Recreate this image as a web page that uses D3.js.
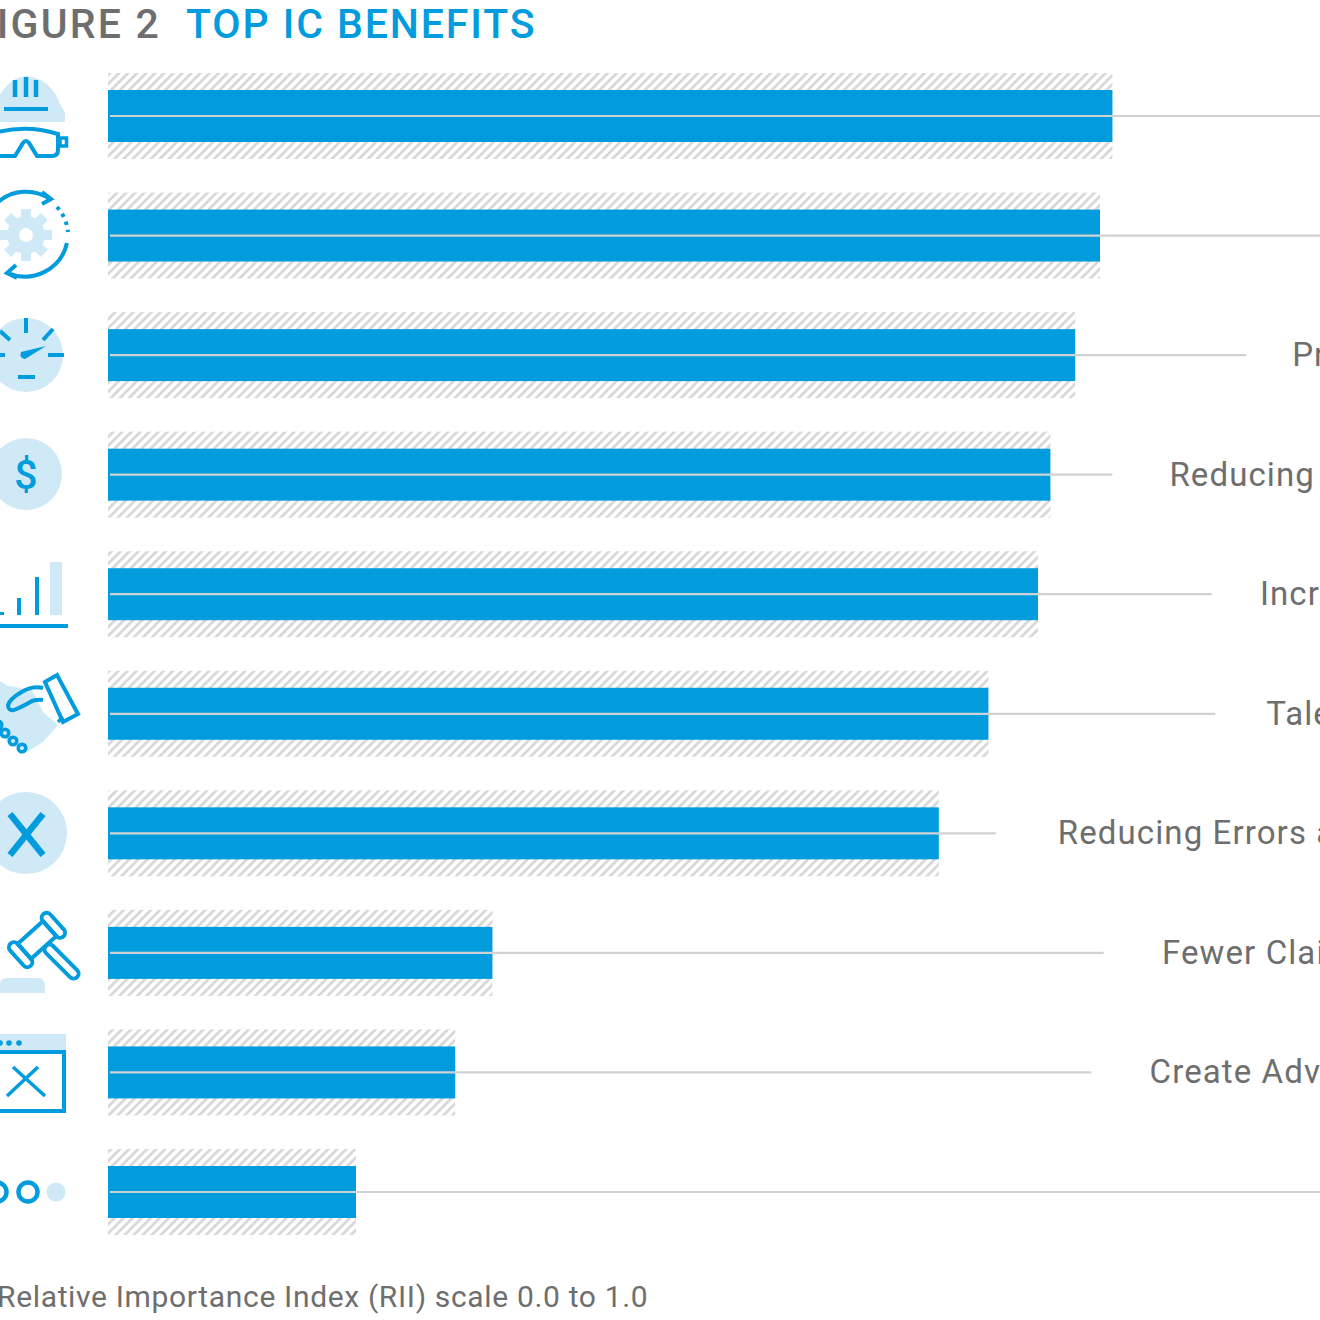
<!DOCTYPE html>
<html><head><meta charset="utf-8">
<script src="https://cdn.jsdelivr.net/npm/d3@7"></script>
<style>html,body{margin:0;padding:0;background:#fff;overflow:hidden}svg{display:block}text{font-family:"Roboto",sans-serif}</style>
</head><body><svg id="c" width="1320" height="1320" viewBox="0 0 1320 1320"></svg>
<script>
const rows = ["r1","r2","r3","r4","r5","r6","r7","r8","r9","r10"];
const rii = [0.81,0.80,0.78,0.76,0.75,0.71,0.67,0.31,0.28,0.20];
const leaderEnd = [1.2,1.2,0.918,0.81,0.89,0.893,0.716,0.803,0.793,1.2];
const labelStart = [null,null,0.955,0.856,0.929,0.934,0.766,0.85,0.84,null];
const labels = ["","","Pr","Reducing","Incr","Tale","Reducing Errors a","Fewer Clai","Create Adv",""];
const titleGrey = "FIGURE 2", titleBlue = "TOP IC BENEFITS";
const footnote = "Relative Importance Index (RII) scale 0.0 to 1.0";

const BLUE="#009cde", LIGHT="#cfe9f7", GREY="#6e6e6e", RULE="#cfd2d3";
const svg=d3.select("#c");
const x=d3.scaleLinear().domain([0,1]).range([108,1348]);
const y=d3.scalePoint().domain(rows).range([116,1192]);
const defs=svg.append("defs");
const pat=defs.append("pattern").attr("id","hatch").attr("patternUnits","userSpaceOnUse")
  .attr("width",6.4).attr("height",6.4).attr("patternTransform","rotate(45)");
pat.append("rect").attr("width",2.8).attr("height",6.4).attr("fill","#d8d8d8");

const g=svg.selectAll("g.row").data(rows).join("g").attr("class","row");
g.append("rect").attr("x",x(0)).attr("y",d=>y(d)-43).attr("height",86)
  .attr("width",(d,i)=>x(rii[i])-x(0)).attr("fill","url(#hatch)");
g.append("rect").attr("x",x(0)).attr("y",d=>y(d)-26).attr("height",52)
  .attr("width",(d,i)=>x(rii[i])-x(0)).attr("fill",BLUE);
g.append("line").attr("x1",x(0)+2).attr("x2",(d,i)=>x(leaderEnd[i]))
  .attr("y1",d=>y(d)).attr("y2",d=>y(d)).attr("stroke",RULE).attr("stroke-width",2.2);
g.filter((d,i)=>labels[i]).append("text")
  .attr("x",d=>x(labelStart[rows.indexOf(d)])).attr("y",d=>y(d)+11)
  .attr("font-size",33).attr("letter-spacing",1.1).attr("fill",GREY)
  .text(d=>labels[rows.indexOf(d)]);

svg.append("text").attr("x",161).attr("y",38).attr("text-anchor","end").attr("font-size",41)
  .attr("font-weight",500).attr("letter-spacing",2.2).attr("fill",GREY).text(titleGrey);
svg.append("text").attr("x",186).attr("y",38).attr("font-size",41)
  .attr("font-weight",500).attr("letter-spacing",1.9).attr("fill",BLUE).text(titleBlue);
svg.append("text").attr("x",-3).attr("y",1307).attr("font-size",30).attr("letter-spacing",0.66)
  .attr("fill",GREY).text(footnote);

// icons
const ic=svg.append("g").attr("fill","none").attr("stroke",BLUE).attr("stroke-width",4);
const L=(a,b,c,d,w)=>ic.append("line").attr("x1",a).attr("y1",b).attr("x2",c).attr("y2",d).attr("stroke-width",w||4);
const lf=(s)=>s.attr("fill",LIGHT).attr("stroke","none");
// helmet and goggles
lf(ic.append("path").attr("d","M-3 122V100Q8 78 26 76Q50 78 60 104L65 113V122Z"));
L(15,80,15,97,4.5);L(26,77,26,97,4.5);L(36,80,36,97,4.5);L(4,109,48,109);
ic.append("path").attr("d","M-6 133Q26 124 58 134V150Q58 156 52 156H37L29 143Q26 139 23 143L15 156H-6");
ic.append("rect").attr("x",60).attr("y",138).attr("width",6.5).attr("height",8).attr("stroke-width",3.5);
// gear and arrows
const gear=ic.append("g").attr("transform","translate(26,235)");
lf(gear.append("circle").attr("r",19));
d3.range(8).forEach(k=>lf(gear.append("rect").attr("x",-5).attr("y",-26).attr("width",10).attr("height",12).attr("transform",`rotate(${k*45})`)));
gear.append("circle").attr("r",7).attr("fill","#fff").attr("stroke","none");
ic.append("path").attr("d","M-3 203A43 43 0 0 1 50 199M42 192L51 199L42 204");
ic.append("path").attr("d","M57 207A43 43 0 0 1 68 232").attr("stroke-dasharray","3.5 5");
ic.append("path").attr("d","M67 243A43 43 0 0 1 8 273M16 265L7 273L17 278");
// gauge
lf(ic.append("circle").attr("cx",26).attr("cy",355).attr("r",37));
L(26,318,26,333);L(43,340,53,329);L(48,355,64,355);L(18,377,35,377);L(0,331,10,340);L(-5,355,5,355);
ic.append("path").attr("d","M21 352L46 346L25 359Q19 358 21 352Z").attr("fill",BLUE).attr("stroke","none");
// dollar
lf(ic.append("circle").attr("cx",26).attr("cy",474).attr("r",36));
ic.append("text").attr("x",26).attr("y",489).attr("text-anchor","middle").attr("font-size",41).attr("font-weight",500)
  .attr("fill",BLUE).attr("stroke","none").text("$");
// bars icon
lf(ic.append("rect").attr("x",50).attr("y",562).attr("width",12).attr("height",53));
L(-2,626,68,626,4);L(2,612,2,615,4);L(19,598,19,615,4);L(37,577,37,615,4);
// handshake
lf(ic.append("path").attr("d","M-4 678L8 686L32 690L43 712L58 725L43 742L27 752L8 742L-4 730Z"));
ic.append("path").attr("d","M43 688Q32 685 20 693Q10 699 8 705Q8 711 14 710Q22 707 32 701Q38 699 43 700");
ic.append("path").attr("d","M45 682L57 675L78 714L63 722Z");
L(58,722,63,717,3.5);
[[-2,725],[5,733],[13,741],[22,748]].forEach(p=>ic.append("circle").attr("cx",p[0]).attr("cy",p[1]).attr("r",3.8).attr("stroke-width",3.5));
// error x
lf(ic.append("circle").attr("cx",26).attr("cy",833).attr("r",41));
L(10,814,43,855,6.5);L(43,814,10,855,6.5);
// gavel
lf(ic.append("path").attr("d","M0 993V984Q0 978 8 978H37Q45 978 45 986V993Z"));
const gv=ic.append("g").attr("transform","translate(37,940) rotate(-42)");
gv.append("rect").attr("x",-17).attr("y",-10).attr("width",34).attr("height",20);
gv.append("rect").attr("x",-27).attr("y",-15).attr("width",10).attr("height",30).attr("rx",5);
gv.append("rect").attr("x",17).attr("y",-15).attr("width",10).attr("height",30).attr("rx",5);
ic.append("g").attr("transform","translate(46,946) rotate(45)").append("rect").attr("x",0).attr("y",-5).attr("width",44).attr("height",10).attr("rx",5);
// window
lf(ic.append("rect").attr("x",-2).attr("y",1034).attr("width",68).attr("height",16));
[0,9,19].forEach(a=>ic.append("circle").attr("cx",a).attr("cy",1043).attr("r",2.8).attr("fill",BLUE).attr("stroke","none"));
ic.append("rect").attr("x",-4).attr("y",1052).attr("width",68).attr("height",59).attr("stroke-width",4);
L(13,1067,45,1096,3.5);L(38,1067,7,1096,3.5);
// dots
ic.append("circle").attr("cx",-3).attr("cy",1192).attr("r",9.5).attr("stroke-width",4.5);
ic.append("circle").attr("cx",28).attr("cy",1192).attr("r",9.5).attr("stroke-width",4.5);
lf(ic.append("circle").attr("cx",56).attr("cy",1192).attr("r",9.5));
</script></body></html>
